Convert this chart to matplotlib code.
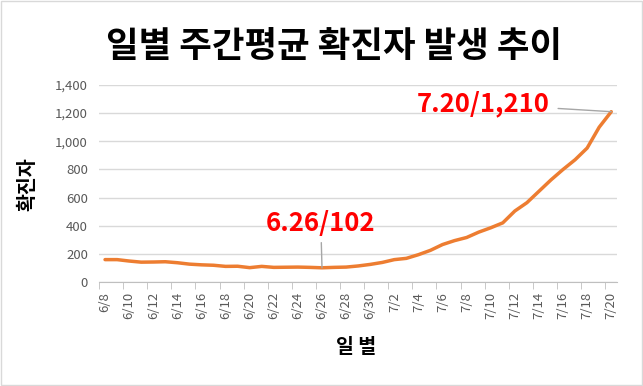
import numpy as np
import matplotlib
matplotlib.use('Agg')
from matplotlib import pyplot as plt
import matplotlib.patches as patches

plt.rcParams['font.family'] = ['Noto Sans CJK KR', 'DejaVu Sans']
plt.rcParams['axes.unicode_minus'] = False

# 6/8 ~ 7/20 일별 주간평균 확진자
dates = ['6/8', '6/9', '6/10', '6/11', '6/12', '6/13', '6/14', '6/15', '6/16', '6/17',
         '6/18', '6/19', '6/20', '6/21', '6/22', '6/23', '6/24', '6/25', '6/26', '6/27',
         '6/28', '6/29', '6/30', '7/1', '7/2', '7/3', '7/4', '7/5', '7/6', '7/7',
         '7/8', '7/9', '7/10', '7/11', '7/12', '7/13', '7/14', '7/15', '7/16', '7/17',
         '7/18', '7/19', '7/20']
cases = [160, 160, 150, 142, 143, 145, 138, 128, 123, 120,
         112, 113, 103, 112, 105, 106, 107, 105, 102, 105,
         107, 115, 126, 140, 160, 169, 195, 226, 267, 295,
         317, 355, 386, 421, 505, 564, 645, 726, 800, 869,
         952, 1100, 1210]
y_ticks = [0, 200, 400, 600, 800, 1000, 1200, 1400]

fig = plt.figure(figsize=(6.43, 3.86), dpi=100)
ax = fig.add_axes([0.154, 0.269, 0.806, 0.511])

x = np.arange(len(dates))
ax.plot(x, cases, color='#ED7D31', linewidth=2.5, solid_capstyle='round')

ax.set_xlim(-0.5, len(dates) - 0.5)
ax.set_ylim(0, 1400)
ax.set_yticks(y_ticks)
ax.set_yticklabels([f'{v:,}' for v in y_ticks])
ax.grid(axis='y', color='#D9D9D9', linewidth=1)
ax.set_axisbelow(True)

# x축: 라벨은 2일 간격, 눈금선은 카테고리 경계
ax.set_xticks(x[::2])
ax.set_xticklabels(dates[::2], rotation=90)
ax.set_xticks(np.arange(-0.5, len(dates), 2), minor=True)
ax.tick_params(axis='x', which='major', length=0, labelsize=9.5, labelcolor='#595959', pad=7)
ax.tick_params(axis='x', which='minor', length=5, color='#BFBFBF')
ax.tick_params(axis='y', length=0, labelsize=9.5, labelcolor='#595959', pad=8)

for s in ['top', 'right', 'left']:
    ax.spines[s].set_visible(False)
ax.spines['bottom'].set_color('#BFBFBF')

# 주석
ax.annotate('6.26/102', xy=(18, cases[18]), xytext=(17.9, 320), ha='center', va='bottom',
            fontsize=18.5, fontweight='bold', color='#FF0000',
            arrowprops=dict(arrowstyle='-', color='#A6A6A6', lw=1, shrinkA=2, shrinkB=0))
ax.annotate('7.20/1,210', xy=(42, cases[42]), xytext=(36.9, 1265), ha='right', va='center',
            fontsize=18.5, fontweight='bold', color='#FF0000',
            arrowprops=dict(arrowstyle='-', color='#A6A6A6', lw=1, shrinkA=4, shrinkB=0))

fig.text(0.52, 0.88, '일별 주간평균 확진자 발생 추이', ha='center', va='center',
         fontsize=25.5, fontweight='bold')
fig.text(0.044, 0.523, '확진자', rotation=90, ha='center', va='center',
         fontsize=14, fontweight='bold')
fig.text(0.554, 0.101, '일 별', ha='center', va='center', fontsize=14, fontweight='bold')

# 차트 테두리
fig.patches.append(patches.Rectangle((0.002, 0.003), 0.996, 0.994, transform=fig.transFigure,
                                     fill=False, edgecolor='#D9D9D9', linewidth=1))

fig.savefig('out.png', dpi=100)
